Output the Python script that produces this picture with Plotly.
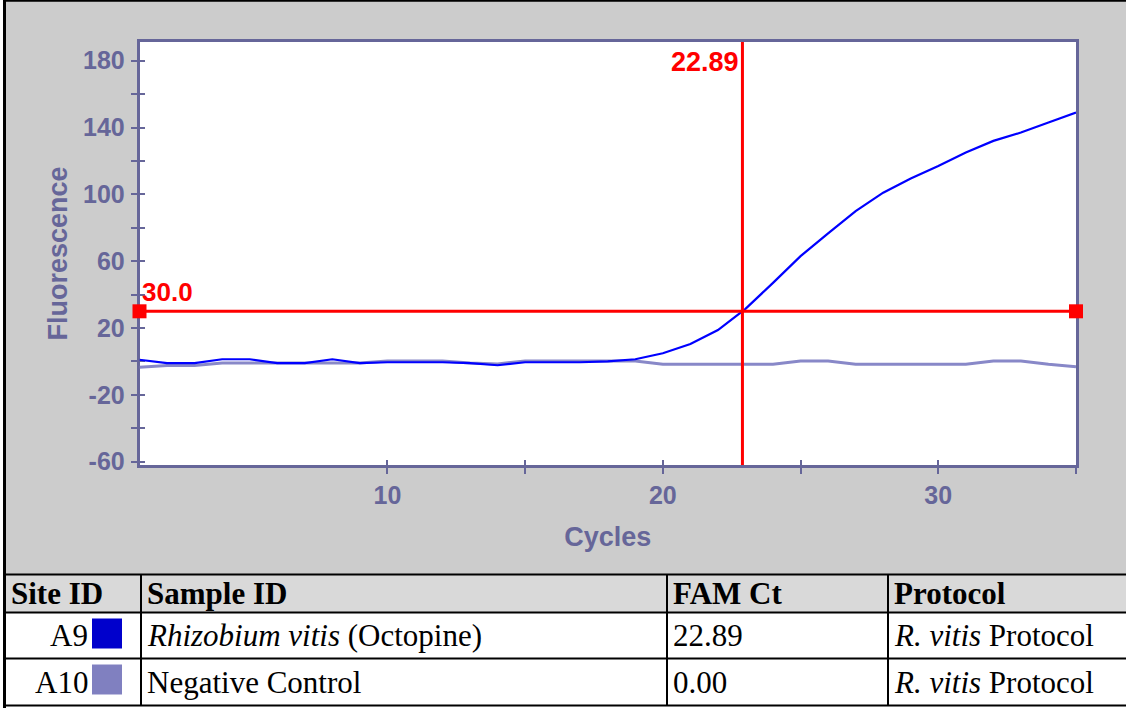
import plotly.graph_objects as go

W, H = 1126, 708

# ---------------- data ----------------
cycles = list(range(1, 36))
a9_fluor = [1.0, -1.0, -1.0, 1.3, 1.3, -1.0, -1.0, 1.3, -1.0, -0.5,
            -0.5, -0.5, -1.0, -2.3, -0.5, -0.5, -0.5, 0.0, 1.3, 4.9,
            10.4, 18.8, 31.5, 47.0, 63.0, 76.6, 90.0, 101.0, 109.5, 117.0,
            125.0, 132.0, 137.0, 143.0, 149.0]
a10_fluor = [-3.5, -2.4, -2.4, -1.0, -1.0, -1.0, -1.0, -1.0, -1.0, 0.3,
             0.3, 0.3, -1.0, -1.5, 0.3, 0.3, 0.3, 0.3, 0.3, -1.7,
             -1.7, -1.7, -1.7, -1.7, 0.3, 0.3, -1.7, -1.7, -1.7, -1.7,
             -1.7, 0.3, 0.3, -1.7, -3.2]
threshold = 30.0
ct_value = 22.89

y_tickvals = [-60, -40, -20, 0, 20, 40, 60, 80, 100, 120, 140, 160, 180]
y_ticktext = ["-60", "", "-20", "", "20", "", "60", "", "100", "", "140", "", "180"]
x_tickvals = [10, 15, 20, 25, 30, 35]
x_ticktext = ["10", "", "20", "", "30", ""]

table_headers = ["Site ID", "Sample ID", "FAM Ct", "Protocol"]
site_ids = ["A9", "A10"]
sample_ids = ["<i>Rhizobium vitis</i> (Octopine)", "Negative Control"]
fam_ct = ["22.89", "0.00"]
protocols = ["<i>R. vitis</i> Protocol", "<i>R. vitis</i> Protocol"]
swatch_colors = ["#0000cc", "#8080c0"]

# ---------------- styling ----------------
AXC = "#666699"
RED = "#ff0000"
SANS = "Liberation Sans, Arial, sans-serif"
SERIF = "Liberation Serif, Times New Roman, serif"

def px(x):
    return x / W

def py(y):
    return 1 - y / H

plot_l, plot_r, plot_t, plot_b = 139.5, 1076, 42, 465
y_range = [-62, 191.2]

fig = go.Figure()

fig.add_trace(go.Scatter(x=cycles, y=a10_fluor, mode="lines",
                         line=dict(color="#8888c8", width=3), hoverinfo="skip"))
fig.add_trace(go.Scatter(x=cycles, y=a9_fluor, mode="lines",
                         line=dict(color="#0000ff", width=2.2), hoverinfo="skip"))
# Ct line
fig.add_trace(go.Scatter(x=[ct_value, ct_value], y=y_range, mode="lines",
                         line=dict(color=RED, width=3), hoverinfo="skip"))
# threshold line
fig.add_trace(go.Scatter(x=[cycles[0], cycles[-1]], y=[threshold, threshold],
                         mode="lines+markers",
                         line=dict(color=RED, width=3),
                         marker=dict(symbol="square", size=14, color=RED,
                                     line=dict(width=0)),
                         cliponaxis=False, hoverinfo="skip"))
# invisible trace on overlay axes (for cross ticks)
fig.add_trace(go.Scatter(x=[cycles[0]], y=[0], xaxis="x2", yaxis="y2",
                         mode="markers", marker=dict(opacity=0), hoverinfo="skip"))

xdom = [px(plot_l), px(plot_r)]
ydom = [py(plot_b), py(plot_t)]

fig.update_layout(
    width=W, height=H,
    margin=dict(l=0, r=0, t=0, b=0),
    paper_bgcolor="#cccccc",
    plot_bgcolor="white",
    showlegend=False,
    xaxis=dict(domain=xdom, range=[1, 35], tickmode="array",
               tickvals=x_tickvals, ticktext=x_ticktext,
               ticks="outside", ticklen=6, tickwidth=2, tickcolor=AXC,
               showline=True, linecolor=AXC, linewidth=2.5, mirror=True,
               showgrid=False, zeroline=False, automargin=False,
               layer="below traces",
               tickfont=dict(family=SANS, size=25, color=AXC, weight="bold"),
               title=dict(text="Cycles", standoff=20,
                          font=dict(family=SANS, size=27, color=AXC, weight="bold"))),
    yaxis=dict(domain=ydom, range=y_range, tickmode="array",
               tickvals=y_tickvals, ticktext=y_ticktext,
               ticks="outside", ticklen=6, tickwidth=2, tickcolor=AXC,
               showline=True, linecolor=AXC, linewidth=2.5, mirror=True,
               showgrid=False, zeroline=False, automargin=False,
               layer="below traces", ticklabelstandoff=1,
               tickfont=dict(family=SANS, size=25, color=AXC, weight="bold"),
               title=dict(text="Fluorescence", standoff=8,
                          font=dict(family=SANS, size=27, color=AXC, weight="bold"))),
    xaxis2=dict(domain=xdom, range=[1, 35], overlaying="x", anchor="y2",
                tickmode="array", tickvals=x_tickvals, ticks="inside",
                ticklen=5, tickwidth=2, tickcolor=AXC, showticklabels=False,
                showline=False, showgrid=False, zeroline=False, side="bottom",
                layer="below traces"),
    yaxis2=dict(domain=ydom, range=y_range, overlaying="y", anchor="x2",
                tickmode="array", tickvals=y_tickvals, ticks="inside",
                ticklen=5, tickwidth=2, tickcolor=AXC, showticklabels=False,
                showline=False, showgrid=False, zeroline=False, side="left",
                layer="below traces"),
)

row_edges = [574.5, 612.5, 658.5, 705.5]
col_edges = [141, 667, 888]

shapes = []
# white area under the chart panel (table body + outside frame)
shapes.append(dict(type="rect", xref="paper", yref="paper", layer="below",
                   x0=0, x1=1, y0=0, y1=py(574),
                   fillcolor="white", line=dict(width=0)))
shapes.append(dict(type="rect", xref="paper", yref="paper", layer="below",
                   x0=0, x1=px(3), y0=0, y1=1,
                   fillcolor="white", line=dict(width=0)))
# header background
shapes.append(dict(type="rect", xref="paper", yref="paper", layer="below",
                   x0=px(5), x1=1, y0=py(612), y1=py(575),
                   fillcolor="#d9d9d9", line=dict(width=0)))
# outer frame
shapes.append(dict(type="line", xref="paper", yref="paper",
                   x0=px(4.5), x1=px(4.5), y0=py(0), y1=py(H),
                   line=dict(color="black", width=3)))
shapes.append(dict(type="line", xref="paper", yref="paper",
                   x0=px(3), x1=1, y0=py(0.8), y1=py(0.8),
                   line=dict(color="black", width=2)))
# table rules
for yy in row_edges:
    shapes.append(dict(type="line", xref="paper", yref="paper",
                       x0=px(3), x1=1, y0=py(yy), y1=py(yy),
                       line=dict(color="black", width=2)))
for xx in col_edges:
    shapes.append(dict(type="line", xref="paper", yref="paper",
                       x0=px(xx), x1=px(xx), y0=py(574), y1=py(706),
                       line=dict(color="black", width=2)))
# swatches
for i, c in enumerate(swatch_colors):
    top = row_edges[i + 1] + 6
    shapes.append(dict(type="rect", xref="paper", yref="paper",
                       x0=px(92), x1=px(122), y0=py(top + 30), y1=py(top),
                       fillcolor=c, line=dict(width=0)))

annotations = []
annotations.append(dict(x=ct_value, y=1, xref="x", yref="y domain",
                        text=f"{ct_value:.2f}", showarrow=False,
                        xanchor="right", yanchor="top", xshift=-1, yshift=-3,
                        font=dict(family=SANS, size=27, color=RED, weight="bold")))
annotations.append(dict(x=cycles[0], y=threshold, xref="x", yref="y",
                        text=f"{threshold:.1f}", showarrow=False,
                        xanchor="left", yanchor="bottom", xshift=0, yshift=2,
                        font=dict(family=SANS, size=26, color=RED, weight="bold")))

TFS = 31
col_left = [5, 141, 667, 888]
header_cy = (row_edges[0] + row_edges[1]) / 2
for j, h in enumerate(table_headers):
    annotations.append(dict(x=px(col_left[j] + 4), y=py(header_cy), xref="paper", yref="paper",
                            text=f"<b>{h}</b>", showarrow=False, xanchor="left", yanchor="middle",
                            font=dict(family=SERIF, size=TFS, color="black")))
for i in range(2):
    cy = (row_edges[i + 1] + row_edges[i + 2]) / 2
    annotations.append(dict(x=px(90), y=py(cy), xref="paper", yref="paper",
                            text=site_ids[i], showarrow=False, xanchor="right", yanchor="middle",
                            font=dict(family=SERIF, size=TFS, color="black")))
    for j, vals in enumerate([sample_ids, fam_ct, protocols]):
        annotations.append(dict(x=px(col_left[j + 1] + 4), y=py(cy), xref="paper", yref="paper",
                                text=vals[i], showarrow=False, xanchor="left", yanchor="middle",
                                font=dict(family=SERIF, size=TFS, color="black")))

fig.update_layout(shapes=shapes, annotations=annotations)
fig.write_html("out.html")
